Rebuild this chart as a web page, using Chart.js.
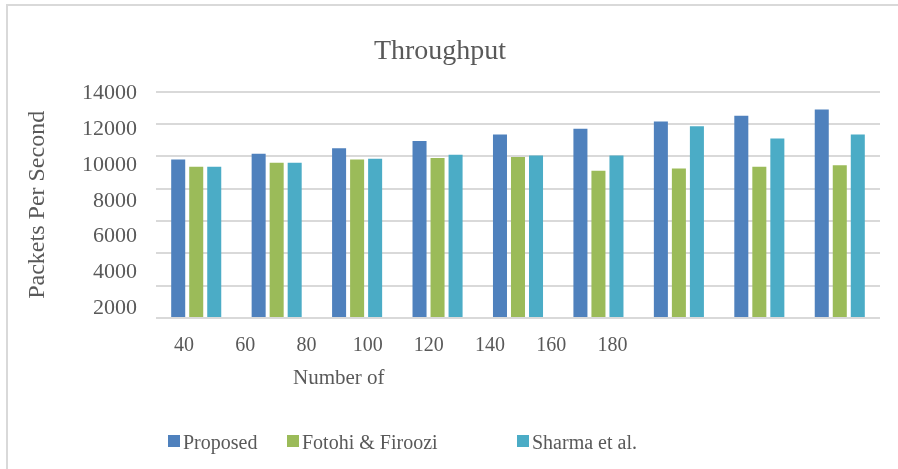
<!DOCTYPE html>
<html>
<head>
<meta charset="utf-8">
<script src="https://cdn.jsdelivr.net/npm/chart.js@4/dist/chart.umd.min.js"></script>
<style>
  html, body { margin: 0; padding: 0; background: #fff; }
  #wrap { position: relative; width: 898px; height: 469px; overflow: hidden; font-family: "Liberation Serif", "Times New Roman", serif; color: #595959; }
  #frame { position: absolute; left: 6px; top: 4px; right: -4px; bottom: -4px; border-top: 2px solid #d9d9d9; border-left: 2px solid #d9d9d9; }
  canvas { position: absolute; left: 0; top: 0; }
  #xtitle { position: absolute; left: 293px; top: 364px; font-size: 21px; line-height: 26px; white-space: nowrap; }
  .lg { position: absolute; top: 430px; font-size: 20px; line-height: 24px; white-space: nowrap; }
  .lg i { display: inline-block; width: 12px; height: 12px; margin-right: 3px; vertical-align: 2px; }
</style>
</head>
<body>
<div id="wrap">
  <div id="frame"></div>
  <canvas id="chart" width="898" height="469"></canvas>
  <div id="xtitle">Number of</div>
</div>
<script>
const categories = ['40', '60', '80', '100', '120', '140', '160', '180', ''];
const proposed = [9800, 10150, 10500, 10950, 11350, 11700, 12150, 12500, 12900];
const fotohi = [9350, 9600, 9800, 9900, 9950, 9100, 9250, 9350, 9450];
const sharma = [9350, 9600, 9850, 10100, 10050, 10050, 11850, 11100, 11350];
const yTickLabels = [2000, 4000, 6000, 8000, 10000, 12000, 14000];

const seriesNames = ['Proposed', 'Fotohi & Firoozi', 'Sharma et al.'];
const seriesColors = ['#4F81BD', '#9BBB59', '#4BACC6'];
const legendLeft = [168, 287, 517];

Chart.defaults.font.family = '"Liberation Serif", "Times New Roman", serif';
Chart.defaults.color = '#595959';

const grey = '#d9d9d9';

new Chart(document.getElementById('chart').getContext('2d'), {
  type: 'bar',
  data: {
    labels: categories,
    datasets: [proposed, fotohi, sharma].map((d, i) => ({
      label: seriesNames[i],
      data: d,
      backgroundColor: seriesColors[i],
      borderWidth: 0,
      xAxisID: 'x',
      yAxisID: 'y',
      categoryPercentage: 0.672,
      barPercentage: 0.778
    }))
  },
  options: {
    responsive: false,
    animation: false,
    layout: { padding: { left: 0, right: 18, top: 0, bottom: 0 } },
    plugins: {
      legend: { display: false },
      tooltip: { enabled: false },
      title: {
        display: true,
        text: 'Throughput',
        font: { size: 28, weight: 'normal' },
        color: '#595959',
        padding: { top: 35, bottom: 23 }
      }
    },
    scales: {
      x: {
        type: 'category',
        weight: 0,
        grid: { display: false },
        border: { display: false },
        ticks: { display: false }
      },
      // label axis: tick text only, spread as in the source picture
      xl: {
        type: 'linear',
        position: 'bottom',
        weight: 1,
        offset: false,
        min: -0.4575,
        max: 11.37,
        grid: { display: false, drawTicks: false, offset: false },
        border: { display: false },
        afterBuildTicks: s => { s.ticks = categories.filter(c => c !== '').map((c, i) => ({ value: i })); },
        afterFit: s => { s.height = 143; },
        ticks: {
          padding: 8,
          autoSkip: false,
          maxRotation: 0,
          font: { size: 20 },
          callback: v => categories[v]
        }
      },
      y: {
        type: 'linear',
        weight: 0,
        min: 0,
        max: 14000,
        grid: { color: grey, lineWidth: 2, drawTicks: false },
        border: { display: false },
        ticks: { display: false, stepSize: 2000 }
      },
      yl: {
        type: 'linear',
        position: 'left',
        weight: 1,
        min: 1439,
        max: 14112,
        grid: { display: false, drawTicks: false },
        border: { display: false },
        afterBuildTicks: s => { s.ticks = yTickLabels.map(v => ({ value: v })); },
        afterFit: s => { s.width = 156; },
        title: {
          display: true,
          text: 'Packets Per Second',
          font: { size: 24 },
          color: '#595959',
          padding: { top: 23, bottom: 0 }
        },
        ticks: {
          padding: 19,
          font: { size: 22 },
          callback: v => String(v)
        }
      }
    }
  }
});

// legend built from the same series names and colours
const wrap = document.getElementById('wrap');
seriesNames.forEach((name, i) => {
  const item = document.createElement('div');
  item.className = 'lg';
  item.style.left = legendLeft[i] + 'px';
  const box = document.createElement('i');
  box.style.background = seriesColors[i];
  item.appendChild(box);
  item.appendChild(document.createTextNode(name));
  wrap.appendChild(item);
});
</script>
</body>
</html>
